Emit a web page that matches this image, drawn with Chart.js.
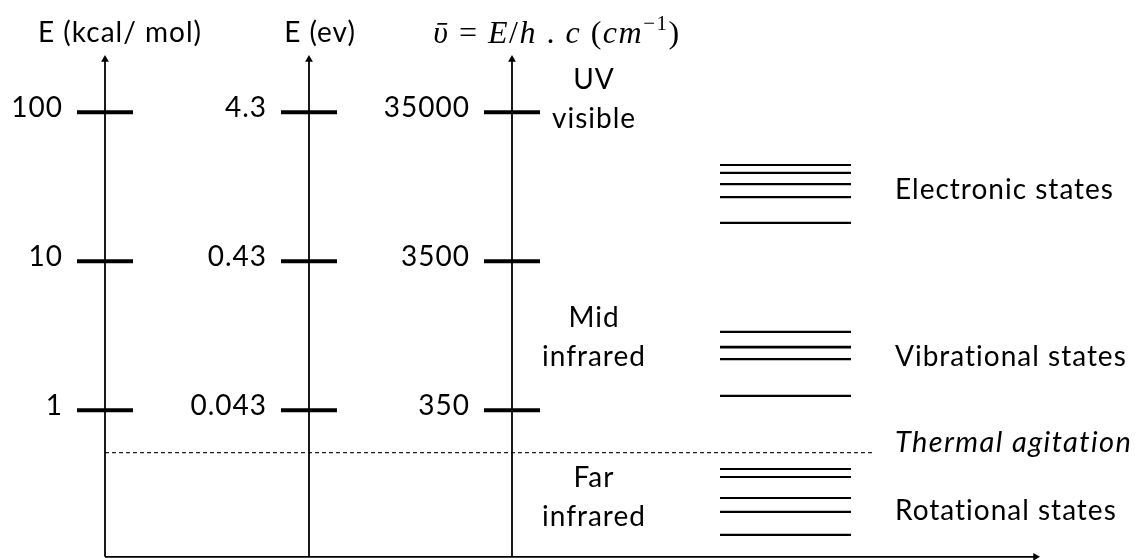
<!DOCTYPE html>
<html>
<head>
<meta charset="utf-8">
<script src="https://cdn.jsdelivr.net/npm/chart.js@4/dist/chart.umd.min.js"></script>
<style>
  html, body { margin: 0; padding: 0; background: #fff; }
  #wrap { width: 1143px; height: 560px; position: relative; }
</style>
</head>
<body>
<div id="wrap"><canvas id="energy"></canvas></div>
<script>
// energy axis ticks (same rows, three units)
const kcalTicks = [100, 10, 1];
const evTickLabels = ['4.3', '0.43', '0.043'];
const cmTickLabels = ['35000', '3500', '350'];
const axisTitles = ['E (kcal/ mol)', 'E (ev)'];

const electronicLevels = [44.3, 39.2, 33.0, 27.0, 18.1];
const vibrationalLevels = [3.36, 2.66, 2.21, 1.25];
const rotationalLevels = [0.404, 0.357, 0.258, 0.208, 0.146];
const thermalLevel = 0.52;

const stateNames = ['Electronic states', 'Vibrational states', 'Rotational states'];
const stateNameLevels = [29.9, 2.28, 0.211];
const thermalName = 'Thermal agitation';
const regionNames = [['UV', 'visible'], ['Mid', 'infrared'], ['Far', 'infrared']];
const regionLevels = [121, 3.06, 0.26];

// diagram layout (x in diagram units)
const axisX = [105, 309, 512];
const titleShift = [15, 11, 45];
const axisBottom = 0.104, axisTop = 226;
const tickHalf = 28;
const levelX = [720, 851];
const regionX = 594;
const nameX = 895;
const xEnd = 1035.5;
const dashEnd = 875;

const FONT = 'Lato, "Open Sans", sans-serif';
const black = '#000';

function seg(x0, x1, y, width, extra) {
  return Object.assign({
    data: [{x: x0, y: y}, {x: x1, y: y}],
    borderColor: black, borderWidth: width, pointRadius: 0, showLine: true
  }, extra || {});
}

const datasets = [];
// vertical axes with arrow heads
axisX.forEach(x => datasets.push({
  data: [{x: x, y: axisBottom}, {x: x, y: axisTop}],
  borderColor: black, borderWidth: 1.8, showLine: true,
  pointRadius: [0, 4.5], pointStyle: 'triangle', rotation: 0,
  pointBackgroundColor: black, pointBorderColor: black, pointBorderWidth: 0
}));
// horizontal axis
datasets.push({
  data: [{x: axisX[0], y: axisBottom}, {x: xEnd, y: axisBottom}],
  borderColor: black, borderWidth: 1.8, showLine: true,
  pointRadius: [0, 4.5], pointStyle: 'triangle', rotation: 90,
  pointBackgroundColor: black, pointBorderColor: black, pointBorderWidth: 0
});
// tick marks
axisX.forEach(x => kcalTicks.forEach(v => datasets.push(seg(x - tickHalf, x + tickHalf, v, 4))));
// thermal line
datasets.push(seg(axisX[0], dashEnd, thermalLevel, 1.1, {borderDash: [4, 3], borderColor: '#222'}));
// state levels
electronicLevels.forEach(v => datasets.push(seg(levelX[0], levelX[1], v, 2.2)));
vibrationalLevels.forEach((v, i) => datasets.push(seg(levelX[0], levelX[1], v, i === 1 ? 2.8 : 2.2)));
rotationalLevels.forEach(v => datasets.push(seg(levelX[0], levelX[1], v, 2.2)));

const labelPlugin = {
  id: 'labels',
  afterDatasetsDraw(chart) {
    const ctx = chart.ctx, xs = chart.scales.x, ys = chart.scales.y;
    ctx.save();
    ctx.fillStyle = black;
    ctx.letterSpacing = '1px';
    ctx.textBaseline = 'middle';
    ctx.font = '28px ' + FONT;
    // tick labels
    const tickSets = [kcalTicks.map(String), evTickLabels, cmTickLabels];
    tickSets.forEach((labels, a) => {
      ctx.textAlign = 'right';
      labels.forEach((t, i) => {
        ctx.fillText(t, xs.getPixelForValue(axisX[a] - tickHalf) - 14, ys.getPixelForValue(kcalTicks[i]) - 4);
      });
    });
    // axis titles
    const tipPx = ys.getPixelForValue(axisTop) - 4.5;
    ctx.textAlign = 'center';
    ctx.textBaseline = 'alphabetic';
    axisTitles.forEach((t, a) => ctx.fillText(t, xs.getPixelForValue(axisX[a] + titleShift[a]), tipPx - 13));
    // math title for third axis
    const parts = [
      ['\u1FE1', 'italic'], [' = ', ''], ['E', 'italic'], ['/', ''], ['h', 'italic'],
      [' . ', ''], ['c', 'italic'], [' (', ''], ['cm', 'italic'], ['\u22121', 'sup'], [')', '']
    ];
    const mathFont = '"Liberation Serif", "DejaVu Serif", serif';
    const fontOf = p => (p[1] === 'sup' ? '21px ' : (p[1] + ' 32px ')) + mathFont;
    ctx.letterSpacing = '1.5px';
    let total = 0;
    parts.forEach(p => { ctx.font = fontOf(p); total += ctx.measureText(p[0]).width; });
    let mx = xs.getPixelForValue(axisX[2] + titleShift[2]) - total / 2;
    ctx.textAlign = 'left';
    parts.forEach(p => {
      ctx.font = fontOf(p);
      ctx.fillText(p[0], mx, tipPx - 12 - (p[1] === 'sup' ? 13 : 0));
      mx += ctx.measureText(p[0]).width;
    });
    ctx.letterSpacing = '1px';
    // region names
    ctx.font = '28px ' + FONT;
    ctx.textAlign = 'center';
    ctx.textBaseline = 'middle';
    regionNames.forEach((lines, r) => {
      const cy = ys.getPixelForValue(regionLevels[r]);
      ctx.fillText(lines[0], xs.getPixelForValue(regionX), cy - 20);
      ctx.fillText(lines[1], xs.getPixelForValue(regionX), cy + 19);
    });
    // state names
    ctx.textAlign = 'left';
    stateNames.forEach((t, i) => ctx.fillText(t, xs.getPixelForValue(nameX), ys.getPixelForValue(stateNameLevels[i])));
    ctx.font = 'italic 29px ' + FONT;
    ctx.letterSpacing = '1.4px';
    ctx.fillText(thermalName, xs.getPixelForValue(nameX), ys.getPixelForValue(thermalLevel) - 10);
    ctx.restore();
  }
};

new Chart(document.getElementById('energy'), {
  type: 'scatter',
  data: { datasets: datasets },
  options: {
    responsive: true,
    maintainAspectRatio: false,
    animation: false,
    layout: { padding: 0, autoPadding: false },
    plugins: { legend: { display: false }, tooltip: { enabled: false } },
    scales: {
      x: { type: 'linear', min: 0, max: 1143, bounds: 'data', display: false },
      y: { type: 'logarithmic', min: 0.099, max: 567.4, bounds: 'data', display: false }
    }
  },
  plugins: [labelPlugin]
});
</script>
</body>
</html>
